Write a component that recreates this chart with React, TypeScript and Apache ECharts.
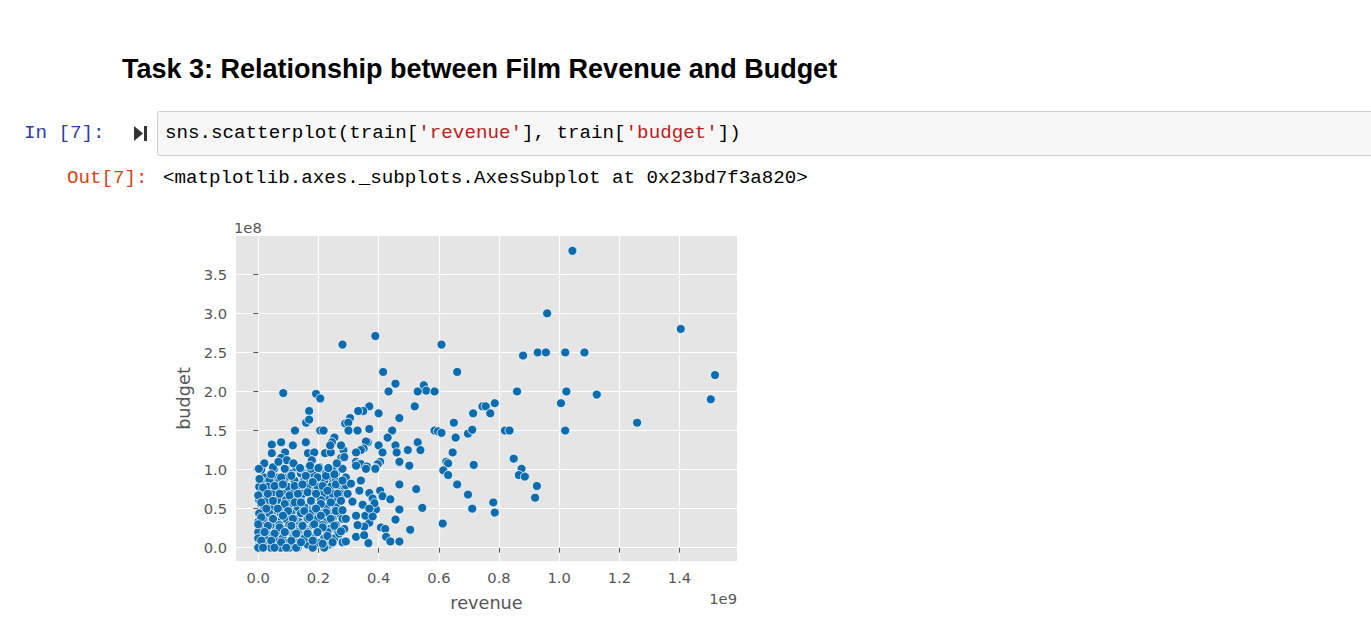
import React, { useEffect, useRef } from 'react';
import * as echarts from 'echarts';

// [revenue, budget] in millions of dollars

// sparse points right of 0.6e9
const outlierPoints: [number, number][] = [
  [1044, 380], [960, 300], [1404, 280], [609, 260], [661, 225], [880, 246], [929, 250], [956, 250],
  [1020, 250], [1084, 250], [1518, 221], [1504, 190], [860, 200], [1024, 200], [1125, 196], [1006, 185],
  [745, 181], [756, 181], [786, 185], [714, 172], [771, 172], [650, 160], [1259, 160], [609, 147],
  [656, 141], [697, 146], [711, 151], [820, 150], [835, 150], [1020, 150], [646, 122], [631, 108],
  [615, 99], [631, 93], [716, 106], [849, 114], [875, 101], [866, 93], [886, 91], [661, 81],
  [926, 79], [697, 68], [920, 64], [781, 58], [786, 45], [711, 50], [613, 31],
];

// points between 0.25e9 and 0.6e9
const midPoints: [number, number][] = [
  [280, 260], [389, 271], [415, 225], [347, 175],
  [456, 210], [433, 200], [550, 208], [558, 201], [530, 200], [586, 200], [520, 181], [369, 181],
  [349, 175], [332, 175], [400, 172], [469, 166], [305, 166], [299, 160], [300, 150], [330, 150],
  [369, 152], [445, 150], [586, 150], [597, 149], [430, 141], [364, 135], [358, 136], [400, 131],
  [456, 131], [530, 135], [497, 125], [539, 125], [460, 122], [413, 122], [350, 127], [341, 125],
  [325, 122], [275, 131], [286, 116], [469, 110], [502, 105], [625, 110], [405, 110], [397, 107],
  [325, 110], [332, 107], [341, 107], [361, 104], [389, 102],
  [469, 81], [525, 75], [405, 73], [413, 66], [439, 62], [369, 70], [380, 63], [469, 49],
  [545, 51], [391, 49], [456, 36], [505, 23], [408, 26], [422, 24], [425, 14], [439, 8],
  [469, 8], [366, 6], [369, 32], [352, 27], [325, 14], [352, 16], [291, 8], [275, 21],
  [325, 41], [356, 41], [380, 40], [291, 37], [330, 29], [280, 48], [347, 55], [386, 57],
  [313, 59], [369, 50], [297, 69], [341, 86], [291, 80], [308, 82], [280, 86], [336, 73],
  [358, 101], [389, 101], [325, 105],
];

// upper edge of the dense cluster (budget 1.0e8 .. 2.0e8)
const clusterUpper: [number, number][] = [
  [83, 198], [192, 197], [206, 191], [169, 175], [159, 160], [169, 164], [122, 150], [206, 150],
  [217, 150], [45, 132], [76, 135], [115, 131], [158, 135], [45, 121], [89, 122], [165, 121],
  [186, 122], [222, 121], [241, 122], [253, 141], [245, 135], [239, 131], [289, 159], [283, 125],
  [276, 115], [76, 115], [95, 112], [117, 108], [67, 110], [20, 108], [2, 101], [178, 112],
  [172, 105], [139, 102], [200, 102], [261, 108], [233, 102],
];

// the dense block near the origin
const clusterPoints: [number, number][] = [
  [9, 101], [53, 101], [92, 101], [131, 101], [164, 101], [203, 101], [253, 101],
  [109, 95], [142, 95], [181, 95], [225, 95], [258, 95],
  [9, 86], [37, 86], [70, 86], [120, 86], [153, 86], [192, 86], [219, 86], [258, 86], [280, 86],
  [3, 78], [31, 78], [59, 78], [98, 78], [131, 78], [164, 78], [197, 78], [241, 78], [269, 78],
  [15, 69], [48, 69], [81, 69], [114, 69], [147, 69], [181, 69], [214, 69], [247, 69], [275, 69],
  [3, 61], [31, 61], [64, 61], [92, 61], [125, 61], [175, 61], [208, 61], [264, 61],
  [20, 52], [53, 52], [86, 52], [131, 52], [153, 52], [192, 52], [225, 52], [258, 52],
  [3, 44], [37, 44], [75, 44], [109, 44], [142, 44], [175, 44], [203, 44], [241, 44], [269, 44],
  [15, 37], [48, 37], [92, 37], [120, 37], [164, 37], [197, 37], [247, 37],
  [9, 29], [42, 29], [70, 29], [103, 29], [147, 29], [181, 29], [214, 29], [258, 29],
  [0, 20], [26, 20], [59, 20], [92, 20], [131, 20], [164, 20], [197, 20], [230, 20], [264, 20],
  [0, 12], [20, 12], [53, 12], [81, 12], [114, 12], [153, 12], [181, 12], [219, 12], [253, 12],
  [15, 6], [92, 6], [131, 6], [203, 6], [247, 6],
  [0, 0], [42, 0], [75, 0], [103, 0], [131, 0], [181, 0], [219, 0],
  [10, 100], [49, 103], [88, 101], [126, 103], [4, 88], [43, 94], [76, 90], [110, 92],
  [16, 77], [54, 79], [82, 81], [121, 79], [0, 67], [32, 69], [71, 69], [104, 67], [132, 69],
  [10, 58], [49, 60], [88, 56], [121, 58], [27, 50], [65, 50], [99, 47],
  [10, 39], [49, 37], [82, 41], [115, 37], [0, 30], [32, 28], [71, 26], [110, 28],
  [21, 20], [54, 18], [88, 20], [126, 18], [10, 9], [43, 9], [76, 7], [110, 9],
  [16, 0], [54, 0], [93, 0], [126, 0],
  [142, 101], [175, 101], [203, 103], [247, 99], [280, 101], [158, 92], [197, 90], [225, 92],
  [253, 94], [291, 90], [147, 81], [181, 84], [214, 79], [258, 81], [286, 79],
  [164, 71], [192, 69], [230, 73], [264, 69], [142, 58], [175, 60], [208, 56], [241, 58], [275, 60],
  [153, 47], [192, 50], [225, 45], [258, 47], [170, 39], [208, 41], [241, 37], [280, 37],
  [147, 28], [186, 30], [214, 26], [253, 28], [286, 24], [164, 18], [197, 20], [230, 15], [269, 18],
  [142, 7], [181, 9], [214, 5], [247, 7], [280, 7],
];

// half-hidden circles between the rows of the cluster
const clusterHidden: [number, number][] = [
  [20, 90], [59, 90], [92, 90], [164, 90], [203, 90], [241, 90],
  [26, 82], [53, 82], [86, 82], [136, 82], [175, 82], [208, 82], [247, 82],
  [20, 73], [70, 73], [109, 73], [147, 73], [186, 73], [230, 73], [258, 73],
  [20, 65], [48, 65], [81, 65], [109, 65], [142, 65], [192, 65], [225, 65], [258, 65],
  [9, 56], [42, 56], [75, 56], [109, 56], [142, 56], [175, 56], [208, 56], [247, 56],
  [20, 48], [59, 48], [98, 48], [125, 48], [164, 48], [219, 48], [253, 48],
  [0, 33], [31, 33], [64, 33], [103, 33], [136, 33], [181, 33], [219, 33], [247, 33],
  [20, 24], [53, 24], [81, 24], [120, 24], [158, 24], [197, 24], [236, 24],
  [9, 16], [42, 16], [75, 16], [114, 16], [147, 16], [186, 16], [230, 16],
  [4, 4], [59, 4], [92, 4], [164, 4], [236, 4],
];

const revenueTicks = [0, 200, 400, 600, 800, 1000, 1200, 1400];
const budgetTicks = [0, 50, 100, 150, 200, 250, 300, 350];
const revenueRange = [-74, 1591];
const budgetRange = [-17, 399];

const monoFont = '"Liberation Mono", "DejaVu Sans Mono", monospace';

const ScatterChart: React.FC = () => {
  const chartRef = useRef<HTMLDivElement>(null);

  useEffect(() => {
    if (!chartRef.current) return;
    const chart = echarts.init(chartRef.current, undefined, { renderer: 'svg' });
    const gray = '#555555';
    const tickFont = { color: gray, fontSize: 14.7, fontFamily: 'DejaVu Sans' };

    const option: any = {
      animation: false,
      grid: {
        left: 96,
        top: 31,
        width: 501,
        height: 325,
        show: true,
        backgroundColor: '#e5e5e5',
        borderWidth: 0,
      },
      xAxis: {
        type: 'value',
        min: revenueRange[0],
        max: revenueRange[1],
        name: 'revenue',
        nameLocation: 'middle',
        nameGap: 33,
        nameTextStyle: { color: gray, fontSize: 17.7, fontFamily: 'DejaVu Sans' },
        axisLine: { show: false },
        axisTick: { show: true, customValues: revenueTicks, length: 5, lineStyle: { color: gray } },
        axisLabel: {
          ...tickFont,
          customValues: revenueTicks,
          margin: 9,
          formatter: (v: number) => (v / 1000).toFixed(1),
        },
        splitLine: { show: true, lineStyle: { color: '#ffffff', width: 1.2 } },
      },
      yAxis: {
        type: 'value',
        min: budgetRange[0],
        max: budgetRange[1],
        name: 'budget',
        nameLocation: 'middle',
        nameGap: 42,
        nameTextStyle: { color: gray, fontSize: 17.7, fontFamily: 'DejaVu Sans' },
        axisLine: { show: false },
        axisTick: { show: true, customValues: budgetTicks, length: 5, lineStyle: { color: gray } },
        axisLabel: {
          ...tickFont,
          customValues: budgetTicks,
          margin: 9,
          formatter: (v: number) => (v / 100).toFixed(1),
        },
        splitLine: { show: true, lineStyle: { color: '#ffffff', width: 1.2 } },
      },
      graphic: [
        { type: 'text', x: 94, y: 22, style: { text: '1e8', ...tickFont, fill: gray, verticalAlign: 'middle' } },
        { type: 'text', x: 597, y: 393, style: { text: '1e9', ...tickFont, fill: gray, align: 'right', verticalAlign: 'middle' } },
      ],
      series: [
        {
          type: 'scatter',
          data: [...clusterHidden, ...clusterPoints, ...clusterUpper, ...midPoints, ...outlierPoints],
          symbolSize: 9,
          itemStyle: { color: '#0b6caf', borderColor: '#ffffff', borderWidth: 0.8, opacity: 1 },
          emphasis: { disabled: true },
        },
      ],
    };

    chart.setOption(option);
    return () => {
      chart.dispose();
    };
  }, []);

  return <div ref={chartRef} style={{ position: 'absolute', left: 140, top: 205, width: 620, height: 425 }} />;
};

const App: React.FC = () => {
  return (
    <div style={{ position: 'absolute', left: 0, top: 0, width: 1371, height: 633, background: '#fff', overflow: 'hidden' }}>
      <div
        style={{
          position: 'absolute', left: 122, top: 51, whiteSpace: 'nowrap', color: '#000',
          font: 'bold 27px "Liberation Sans", Arial, sans-serif', lineHeight: '36px',
        }}
      >
        Task 3: Relationship between Film Revenue and Budget
      </div>

      <div style={{ position: 'absolute', left: 24, top: 112, font: `19.2px ${monoFont}`, lineHeight: '43px', color: '#303f9f' }}>
        In [7]:
      </div>
      <svg style={{ position: 'absolute', left: 132, top: 125 }} width={18} height={18}>
        <polygon points="2,1 11,8.5 2,16" fill="#333" />
        <rect x={12} y={1} width={3} height={15} fill="#333" />
      </svg>
      <div
        style={{
          position: 'absolute', left: 157, top: 111, width: 1240, height: 43,
          background: '#f7f7f7', border: '1px solid #cfcfcf', borderRadius: 2,
        }}
      >
        <div style={{ position: 'absolute', left: 7, top: 0, font: `19.2px ${monoFont}`, lineHeight: '43px', color: '#000', whiteSpace: 'pre' }}>
          sns.scatterplot(train[<span style={{ color: '#ba2121' }}>'revenue'</span>], train[<span style={{ color: '#ba2121' }}>'budget'</span>])
        </div>
      </div>

      <div style={{ position: 'absolute', left: 67, top: 157, font: `19.2px ${monoFont}`, lineHeight: '43px', color: '#d84315' }}>
        Out[7]:
      </div>
      <div style={{ position: 'absolute', left: 163, top: 157, font: `19.2px ${monoFont}`, lineHeight: '43px', color: '#000', whiteSpace: 'pre' }}>
        {'<matplotlib.axes._subplots.AxesSubplot at 0x23bd7f3a820>'}
      </div>

      <ScatterChart />
    </div>
  );
};

export default App;
